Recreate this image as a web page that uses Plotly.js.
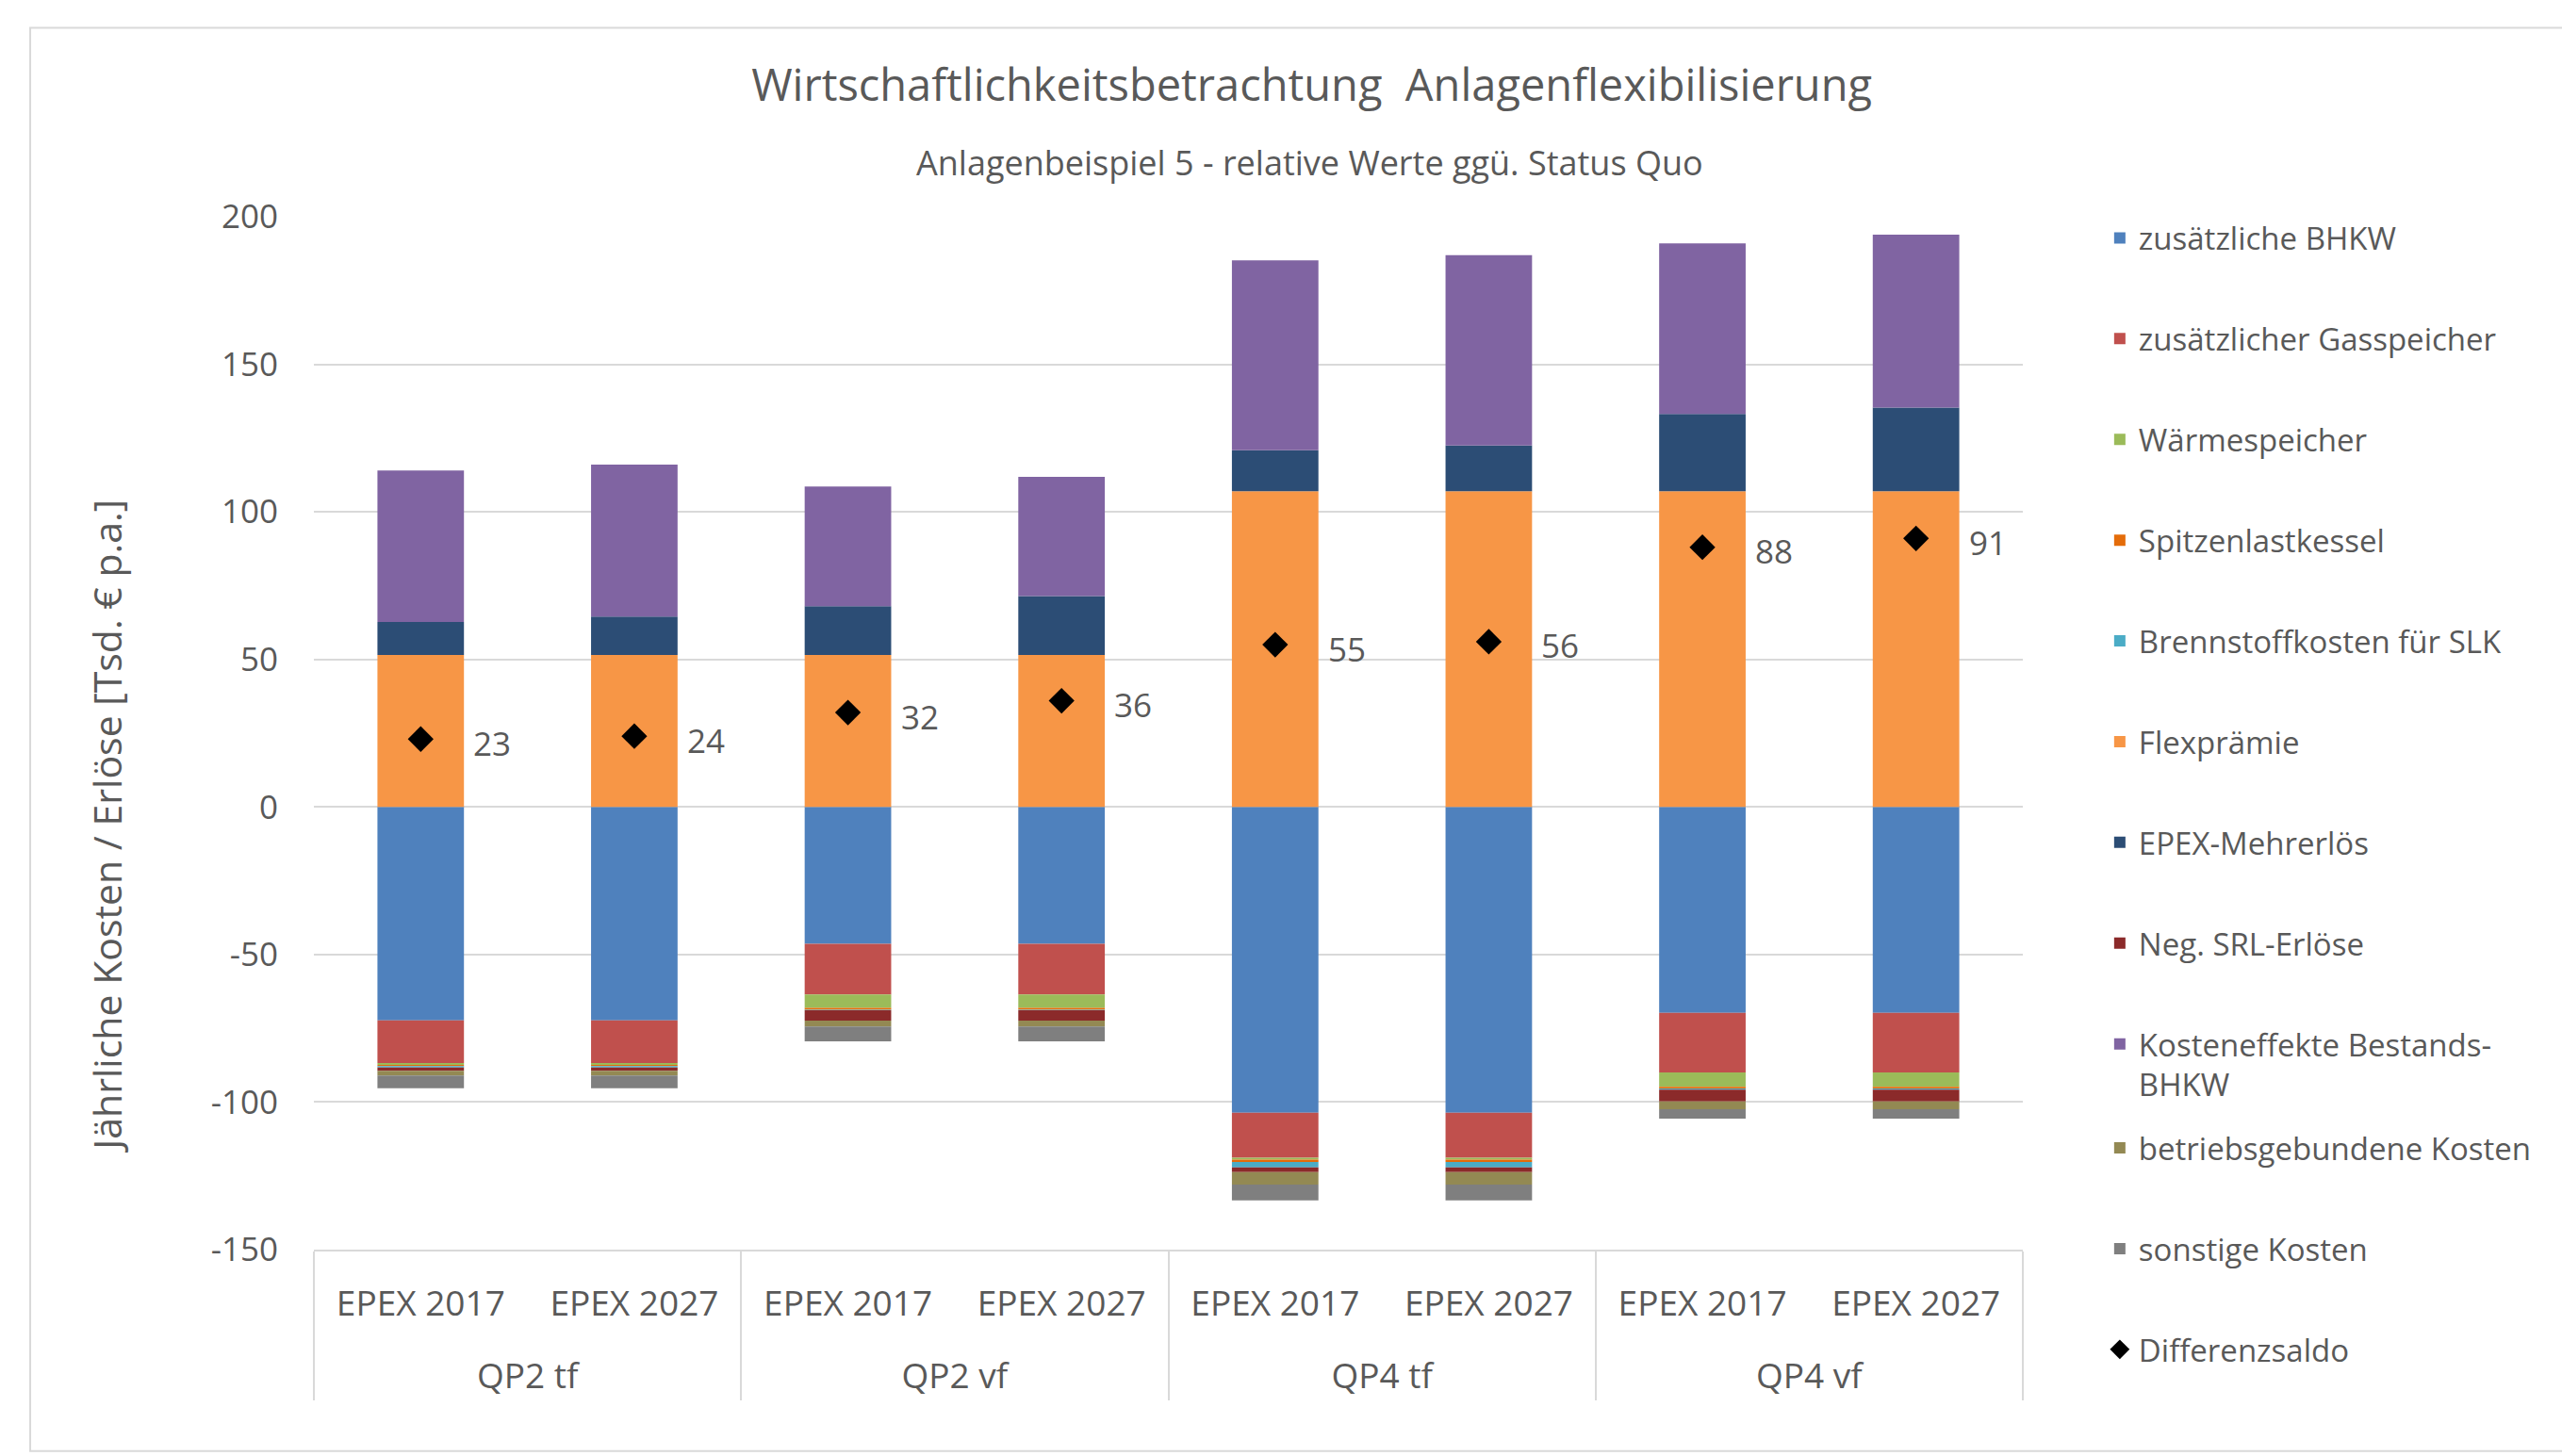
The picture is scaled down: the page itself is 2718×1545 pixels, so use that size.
<!DOCTYPE html>
<html>
<head>
<meta charset="utf-8">
<script src="https://cdn.plot.ly/plotly-3.0.1.min.js"></script>
<style>
  html, body { margin: 0; padding: 0; background: #fff; }
  #chart { width: 2718px; height: 1545px; }
</style>
</head>
<body>
<div id="chart"></div>
<script>
// Kategorien (zwei Ebenen)
var gruppen = ['QP2 tf', 'QP2 tf', 'QP2 vf', 'QP2 vf', 'QP4 tf', 'QP4 tf', 'QP4 vf', 'QP4 vf'];
var szenarien = ['EPEX 2017', 'EPEX 2027', 'EPEX 2017', 'EPEX 2027', 'EPEX 2017', 'EPEX 2027', 'EPEX 2017', 'EPEX 2027'];

// Werte in Tsd. € p.a.
var zusBhkw        = [-72.3, -72.3, -46.4, -46.4, -103.6, -103.6, -69.8, -69.8];
var zusGasspeicher = [-14.5, -14.5, -17.1, -17.1, -15.3, -15.3, -20.2, -20.2];
var waermespeicher = [-0.6, -0.6, -4.6, -4.6, -0.6, -0.6, -4.8, -4.8];
var spitzenlast    = [-0.4, -0.4, -0.6, -0.6, -0.8, -0.8, -0.6, -0.6];
var brennstoffSlk  = [-0.5, -0.5, -0.2, -0.2, -1.8, -1.8, -0.4, -0.4];
var flexpraemie    = [51.5, 51.5, 51.5, 51.5, 107, 107, 107, 107];
var epexMehrerloes = [11.2, 13.0, 16.5, 20.0, 13.9, 15.5, 26.2, 28.3];
var negSrl         = [-1.1, -1.1, -3.5, -3.5, -1.6, -1.6, -4.0, -4.0];
var kostenBestand  = [51.3, 51.5, 40.6, 40.4, 64.3, 64.5, 57.8, 58.6];
var betrieb        = [-1.6, -1.6, -2.0, -2.0, -4.3, -4.3, -2.6, -2.6];
var sonstige       = [-4.3, -4.3, -5.0, -5.0, -5.3, -5.3, -3.2, -3.2];
var saldo          = [23, 24, 32, 36, 55, 56, 88, 91];

// y-Achse: Beschriftung mit normalem Bindestrich wie im Original
var yTickVals = [-150, -100, -50, 0, 50, 100, 150, 200];
var yTickText = ['-150', '-100', '-50', '0', '50', '100', '150', '200'];

var textColor = '#595959';
var gridColor = '#d9d9d9';
var fontName = 'Open Sans';

// untere Ebene bekommt eine Leerzeile, damit die Gruppen tiefer stehen
var x = [gruppen, szenarien.map(function (s) { return s + '<br> '; })];

function bar(name, values, color, legend) {
    return {
        type: 'bar',
        x: x,
        y: values,
        name: name,
        legendgroup: name,
        legend: legend || 'legend',
        marker: { color: color, line: { width: 0 } },
        hoverinfo: 'name+y'
    };
}

var data = [
    bar('zusätzliche BHKW', zusBhkw, '#4f81bd'),
    bar('zusätzlicher Gasspeicher', zusGasspeicher, '#c0504d'),
    bar('Wärmespeicher', waermespeicher, '#9bbb59'),
    bar('Spitzenlastkessel', spitzenlast, '#e46c0a'),
    bar('Brennstoffkosten für SLK', brennstoffSlk, '#4bacc6'),
    bar('Flexprämie', flexpraemie, '#f79646'),
    bar('EPEX-Mehrerlös', epexMehrerloes, '#2c4d75'),
    bar('Neg. SRL-Erlöse', negSrl, '#8b2a2a'),
    bar('Kosteneffekte Bestands-<br>BHKW', kostenBestand, '#8064a2'),
    bar('betriebsgebundene Kosten', betrieb, '#938953', 'legend2'),
    bar('sonstige Kosten', sonstige, '#7f7f7f', 'legend2'),
    {
        type: 'scatter',
        mode: 'markers',
        x: x,
        y: saldo,
        name: 'Differenzsaldo',
        legendgroup: 'Differenzsaldo',
        legend: 'legend2',
        marker: { symbol: 'diamond', size: 21, color: '#000000' },
        hoverinfo: 'name+y'
    }
];

// Beschriftung der Saldo-Punkte
var annotations = saldo.map(function (v, i) {
    return {
        x: i,
        y: v,
        xref: 'x',
        yref: 'y',
        text: String(v),
        showarrow: false,
        xanchor: 'left',
        yanchor: 'middle',
        xshift: 54,
        yshift: -4,
        font: { family: fontName, size: 35, color: textColor }
    };
});

annotations.push({
    text: 'Anlagenbeispiel 5 - relative Werte ggü. Status Quo',
    xref: 'paper',
    yref: 'paper',
    x: 0.5825,
    y: 1.0525,
    xanchor: 'center',
    yanchor: 'middle',
    showarrow: false,
    font: { family: fontName, size: 36, color: textColor }
});

// Achsentitel (im Original nicht mittig zur Achse)
annotations.push({
    text: 'Jährliche Kosten / Erlöse [Tsd. € p.a.]',
    xref: 'paper',
    yref: 'paper',
    x: -0.1213,
    y: 0.41,
    xanchor: 'center',
    yanchor: 'middle',
    textangle: -90,
    showarrow: false,
    font: { family: fontName, size: 41, color: textColor }
});

var legendFont = { family: fontName, size: 33, color: textColor };

var layout = {
    width: 2718,
    height: 1545,
    paper_bgcolor: '#ffffff',
    plot_bgcolor: '#ffffff',
    font: { family: fontName, color: textColor },
    margin: { l: 333, r: 572, t: 230, b: 219 },
    barmode: 'relative',
    bargap: 0.595,
    title: {
        text: 'Wirtschaftlichkeitsbetrachtung  Anlagenflexibilisierung',
        font: { family: fontName, size: 47, color: textColor },
        xref: 'container',
        x: 0.512,
        xanchor: 'center',
        yref: 'container',
        y: 0.9417,
        yanchor: 'middle'
    },
    xaxis: {
        type: 'multicategory',
        showgrid: false,
        showline: true,
        linecolor: gridColor,
        linewidth: 2,
        showdividers: true,
        dividercolor: gridColor,
        dividerwidth: 2,
        ticks: '',
        ticklabelstandoff: 24,
        tickfont: { family: fontName, size: 37, color: textColor },
        fixedrange: true
    },
    yaxis: {
        range: [-150, 200],
        tickmode: 'array',
        tickvals: yTickVals,
        ticktext: yTickText,
        showgrid: true,
        gridcolor: gridColor,
        gridwidth: 2,
        zeroline: false,
        showline: false,
        ticks: '',
        ticklabelstandoff: 37,
        tickfont: { family: fontName, size: 35, color: textColor },
        fixedrange: true
    },
    legend: {
        x: 1.0457,
        xanchor: 'left',
        y: 1.005,
        yanchor: 'top',
        maxheight: 1400,
        traceorder: 'grouped',
        tracegroupgap: 61,
        valign: 'top',
        font: legendFont,
        bgcolor: 'rgba(0,0,0,0)'
    },
    legend2: {
        x: 1.0457,
        xanchor: 'left',
        y: 0.124,
        yanchor: 'top',
        maxheight: 600,
        traceorder: 'grouped',
        tracegroupgap: 61,
        font: legendFont,
        bgcolor: 'rgba(0,0,0,0)'
    },
    shapes: [{
        type: 'rect',
        xref: 'paper',
        yref: 'paper',
        x0: -0.166,
        x1: 1.33,
        y0: -0.195,
        y1: 1.183,
        line: { color: gridColor, width: 2 },
        fillcolor: 'rgba(0,0,0,0)',
        layer: 'below'
    }],
    annotations: annotations,
    showlegend: true
};

Plotly.newPlot('chart', data, layout, { displayModeBar: false, staticPlot: true });
</script>
</body>
</html>
